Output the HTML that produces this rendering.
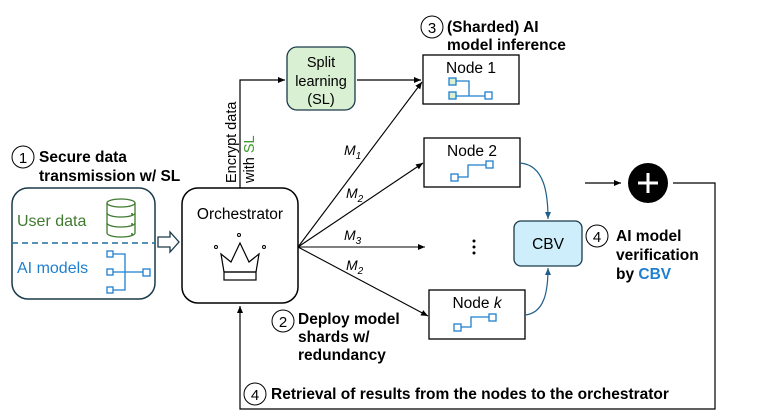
<!DOCTYPE html>
<html><head><meta charset="utf-8"><style>
html,body{margin:0;padding:0;background:#fff}
svg{display:block}
text{font-family:"Liberation Sans",Arial,sans-serif}
.b{font-weight:bold;font-size:15.5px}
</style></head><body>
<svg width="761" height="419" viewBox="0 0 761 419" xmlns="http://www.w3.org/2000/svg">
<defs>
<marker id="a" markerWidth="8" markerHeight="8" refX="7" refY="4" orient="auto" markerUnits="userSpaceOnUse"><path d="M0,1 L7,4 L0,7 z" fill="#000"/></marker>
<marker id="ab" markerWidth="8" markerHeight="8" refX="7" refY="4" orient="auto" markerUnits="userSpaceOnUse"><path d="M0,1 L7,4 L0,7 z" fill="#1f5f8b"/></marker>
</defs>
<circle cx="23" cy="157" r="11" fill="none" stroke="#000" stroke-width="1"/>
<text x="23" y="163" font-size="15" text-anchor="middle">1</text>
<text class="b" x="39" y="162">Secure data</text>
<text class="b" x="39" y="181">transmission w/ SL</text>
<rect x="12" y="188" width="143" height="111" rx="16" fill="none" stroke="#1a3a4a" stroke-width="1.5"/>
<line x1="12" y1="243" x2="155" y2="243" stroke="#1f6f9f" stroke-width="1.5" stroke-dasharray="6,4"/>
<text x="17" y="226" font-size="16" fill="#3f7a2f">User data</text>
<text x="17" y="273" font-size="16" fill="#1f7fcf">AI models</text>
<g fill="none" stroke="#3f7a2f" stroke-width="1.3">
<path d="M107,203 v30 a14,4 0 0 0 28,0 v-30"/>
<ellipse cx="121" cy="203" rx="14" ry="4"/>
<path d="M107,213 a14,4 0 0 0 28,0 M107,223 a14,4 0 0 0 28,0"/>
</g>
<circle cx="132" cy="214" r="1" fill="#3f7a2f"/><circle cx="132" cy="224" r="1" fill="#3f7a2f"/><circle cx="132" cy="234" r="1" fill="#3f7a2f"/>
<g fill="none" stroke="#1f7fcf" stroke-width="1.3">
<rect x="107" y="251" width="6" height="6"/><rect x="107" y="269" width="6" height="6"/><rect x="107" y="287" width="6" height="6"/><rect x="143" y="269" width="7" height="7"/>
<path d="M113,254 h12 v36 h-12 M113,272 h30"/>
</g>
<path d="M158,237 h12 v-5 l9,10 l-9,10 v-5 h-12 z" fill="#fff" stroke="#1a3a4a" stroke-width="1.3"/>
<rect x="182" y="188" width="116" height="115" rx="16" fill="#fff" stroke="#000" stroke-width="1.5"/>
<text x="240" y="219" font-size="15.5" text-anchor="middle">Orchestrator</text>
<g fill="none" stroke="#000" stroke-width="1.2">
<path d="M224,272 L221,254 L231,262 L240,243 L249,262 L259,254 L256,272 z"/>
<rect x="224" y="272" width="32" height="8"/>
</g>
<circle cx="239" cy="235" r="1.5" fill="none" stroke="#000"/><circle cx="216" cy="247" r="1.5" fill="none" stroke="#000"/><circle cx="264" cy="247" r="1.5" fill="none" stroke="#000"/>
<path d="M240,188 V80 H285" fill="none" stroke="#000" stroke-width="1.2" marker-end="url(#a)"/>
<text transform="translate(236,183) rotate(-90)" font-size="14.5">Encrypt data</text>
<text transform="translate(254,183) rotate(-90)" font-size="14.5">with <tspan fill="#3f9a2f">SL</tspan></text>
<rect x="287" y="47" width="68" height="63" rx="10" fill="#d9f0d3" stroke="#1a3a4a" stroke-width="1.3"/>
<text x="321" y="67" font-size="14.5" text-anchor="middle">Split</text>
<text x="321" y="86" font-size="14.5" text-anchor="middle">learning</text>
<text x="321" y="104" font-size="14.5" text-anchor="middle">(SL)</text>
<line x1="357" y1="80" x2="421" y2="80" stroke="#000" stroke-width="1.2" marker-end="url(#a)"/>
<g stroke="#000" stroke-width="1.1" fill="none">
<line x1="298" y1="247" x2="422" y2="82" marker-end="url(#a)"/>
<line x1="298" y1="247" x2="423" y2="163" marker-end="url(#a)"/>
<line x1="298" y1="247" x2="425" y2="247" marker-end="url(#a)"/>
<line x1="298" y1="247" x2="428" y2="316" marker-end="url(#a)"/>
</g>
<g font-family="Liberation Serif,serif" font-style="italic" font-size="14">
<text x="344" y="155">M<tspan font-size="10" dy="4">1</tspan></text>
<text x="346" y="198">M<tspan font-size="10" dy="4">2</tspan></text>
<text x="344" y="240">M<tspan font-size="10" dy="4">3</tspan></text>
<text x="346" y="270">M<tspan font-size="10" dy="4">2</tspan></text>
</g>
<circle cx="432" cy="27" r="11" fill="none" stroke="#000" stroke-width="1"/>
<text x="432" y="33" font-size="15" text-anchor="middle">3</text>
<text class="b" x="447" y="32">(Sharded) AI</text>
<text class="b" x="447" y="50">model inference</text>
<rect x="423" y="55" width="96" height="49" fill="#fff" stroke="#000" stroke-width="1.3"/>
<text x="471" y="73" font-size="15.5" text-anchor="middle">Node 1</text>
<g fill="none" stroke="#1f7fcf" stroke-width="1.3">
<rect x="449" y="78" width="7" height="7" fill="#d9f0d3"/><rect x="449" y="92" width="7" height="7" fill="#d9f0d3"/><rect x="485" y="92" width="7" height="7"/>
<path d="M456,81 h13 v15 M456,96 h29"/>
</g>
<rect x="424" y="138" width="96" height="49" fill="#fff" stroke="#000" stroke-width="1.3"/>
<text x="472" y="156" font-size="15.5" text-anchor="middle">Node 2</text>
<g fill="none" stroke="#1f7fcf" stroke-width="1.3">
<rect x="451" y="174" width="7" height="7"/><rect x="486" y="161" width="7" height="7"/>
<path d="M458,177 h10 v-12 h18"/>
</g>
<circle cx="474" cy="241" r="1.5" fill="#000"/><circle cx="474" cy="247" r="1.5" fill="#000"/><circle cx="474" cy="253" r="1.5" fill="#000"/>
<rect x="429" y="290" width="96" height="49" fill="#fff" stroke="#000" stroke-width="1.3"/>
<text x="477" y="308" font-size="15.5" text-anchor="middle">Node <tspan font-style="italic">k</tspan></text>
<g fill="none" stroke="#1f7fcf" stroke-width="1.3">
<rect x="454" y="324" width="7" height="7"/><rect x="489" y="314" width="7" height="7"/>
<path d="M461,327 h10 v-10 h18"/>
</g>
<path d="M520,163 C545,165 548,195 548,219" fill="none" stroke="#1f5f8b" stroke-width="1.2" marker-end="url(#ab)"/>
<path d="M525,315 C545,313 548,290 548,268" fill="none" stroke="#1f5f8b" stroke-width="1.2" marker-end="url(#ab)"/>
<rect x="514" y="221" width="68" height="45" rx="7" fill="#cdeefa" stroke="#1a3a4a" stroke-width="1.3"/>
<text x="548" y="249" font-size="15.5" text-anchor="middle">CBV</text>
<circle cx="597" cy="236" r="11" fill="none" stroke="#000" stroke-width="1"/>
<text x="597" y="242" font-size="15" text-anchor="middle">4</text>
<text class="b" x="616" y="241">AI model</text>
<text class="b" x="616" y="260">verification</text>
<text class="b" x="616" y="279">by <tspan fill="#1f7fcf">CBV</tspan></text>
<line x1="585" y1="183" x2="621" y2="183" stroke="#000" stroke-width="1.2" marker-end="url(#a)"/>
<circle cx="648" cy="183" r="20" fill="#000"/>
<path d="M638,183 h20 M648,173 v20" stroke="#fff" stroke-width="3"/>
<path d="M673,183 H715 V409 H240 V306" fill="none" stroke="#000" stroke-width="1.2" marker-end="url(#a)"/>
<circle cx="283" cy="321" r="11" fill="none" stroke="#000" stroke-width="1"/>
<text x="283" y="327" font-size="15" text-anchor="middle">2</text>
<text class="b" x="298" y="324">Deploy model</text>
<text class="b" x="298" y="342">shards w/</text>
<text class="b" x="298" y="360">redundancy</text>
<circle cx="255" cy="394" r="11" fill="none" stroke="#000" stroke-width="1"/>
<text x="255" y="400" font-size="15" text-anchor="middle">4</text>
<text class="b" x="271" y="399">Retrieval of results from the nodes to the orchestrator</text>
</svg>
</body></html>
